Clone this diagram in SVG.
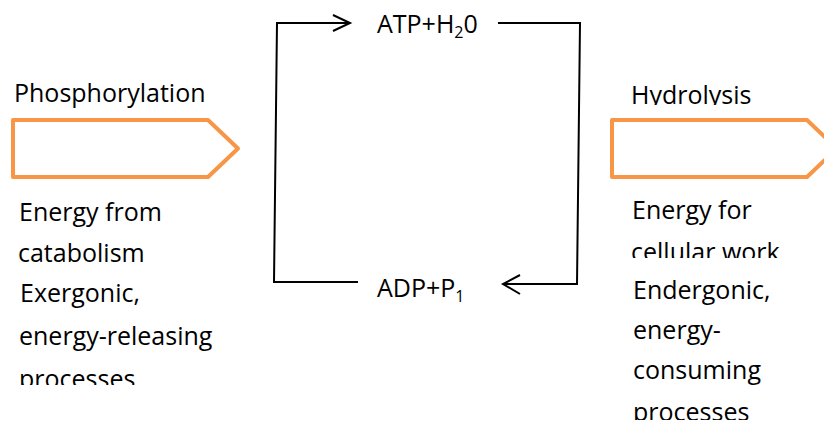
<svg xmlns="http://www.w3.org/2000/svg" width="824" height="423" viewBox="0 0 824 423">
  <style>
    .t { font-family: "Open Sans", "Noto Sans", "Liberation Sans", sans-serif; font-size: 25px; fill: #000; }
    .sub { font-size: 16px; }
    .shape { fill: #fff; stroke: #F79646; stroke-width: 4; stroke-linejoin: round; }
    .wire { fill: none; stroke: #000; stroke-width: 2; }
  </style>
  <defs>
    <clipPath id="clipHydro"><rect x="600" y="60" width="224" height="45"/></clipPath>
    <clipPath id="clipCell"><rect x="600" y="230" width="224" height="28"/></clipPath>
    <clipPath id="clipProcL"><rect x="0" y="350" width="260" height="35"/></clipPath>
    <clipPath id="clipProcR"><rect x="600" y="390" width="224" height="30"/></clipPath>
  </defs>
  <rect width="824" height="423" fill="#fff"/>

  <!-- phosphorylation side -->
  <g id="phosphorylation">
    <text class="t" x="14" y="102">Phosphorylation</text>
    <path class="shape" d="M13,120 H208 L238,148.5 L208,177 H13 Z"/>
    <text class="t" x="19" y="221">Energy from</text>
    <text class="t" x="18" y="262">catabolism</text>
    <text class="t" x="20" y="302">Exergonic,</text>
    <text class="t" x="19" y="345">energy-releasing</text>
    <text class="t" x="19" y="388" clip-path="url(#clipProcL)">processes</text>
  </g>

  <!-- hydrolysis side -->
  <g id="hydrolysis">
    <text class="t" x="631" y="104" clip-path="url(#clipHydro)">Hydrolysis</text>
    <path class="shape" d="M612,120 H807 L837,148.5 L807,177 H612 Z"/>
    <text class="t" x="632" y="219">Energy for</text>
    <text class="t" x="631" y="261" clip-path="url(#clipCell)">cellular work</text>
    <text class="t" x="633" y="299">Endergonic,</text>
    <text class="t" x="633" y="339">energy-</text>
    <text class="t" x="633" y="379">consuming</text>
    <text class="t" x="633" y="421" clip-path="url(#clipProcR)">processes</text>
  </g>

  <!-- cycle species -->
  <g id="atp">
    <text class="t" x="377" y="33">ATP+H<tspan class="sub" dy="5">2</tspan><tspan dy="-5">0</tspan></text>
  </g>
  <g id="adp">
    <text class="t" x="377" y="297">ADP+P<tspan class="sub" dy="5">1</tspan></text>
  </g>

  <!-- cycle connectors -->
  <g id="connectors">
    <polyline class="wire" points="358,282 274,282 277,23 350,23"/>
    <polyline class="wire" points="333,15 350,23 333,31"/>
    <polyline class="wire" points="498,23 580,23 577,284 503,284"/>
    <polyline class="wire" points="520,275 503,284 520,294"/>
  </g>
</svg>
